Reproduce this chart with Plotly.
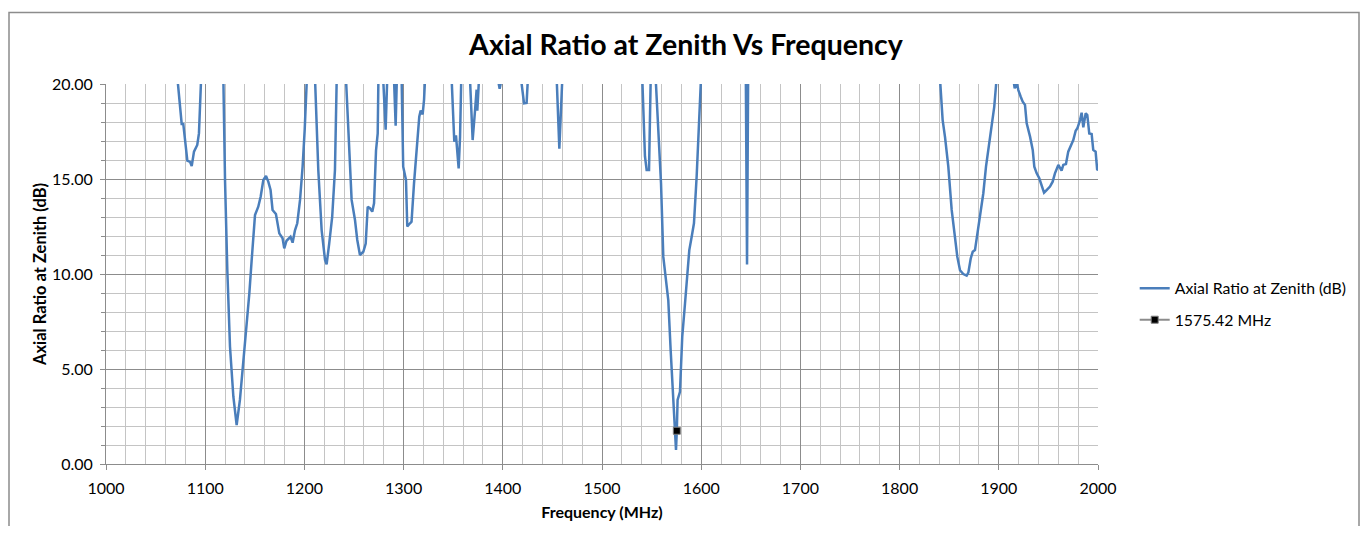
import plotly.graph_objects as go

# Axial ratio; values above 20 dB run off the top of the axis
freq_mhz = [
    1000, 1040, 1072, 1074, 1076.3, 1077.9, 1080, 1082, 1084.7, 1086.4, 1088.7, 1092, 1093.7, 1095, 1096.6,
    1107, 1118.3, 1120, 1122.3, 1125, 1128.4, 1131.7, 1135, 1138.4, 1141.8, 1144.5, 1146.8, 1150.2, 1153.5,
    1155.9, 1158.6, 1161.3, 1163.6, 1165.9, 1167.9, 1171.3, 1174.7, 1178, 1179.7, 1182, 1186, 1188.1, 1190.5,
    1192.8, 1195.6, 1198.2, 1200.3, 1202.5,
    1206, 1210.7, 1214, 1217.4, 1220.8, 1222.4, 1225, 1228, 1230.8, 1233.2,
    1238, 1241.9, 1244.3, 1247.6, 1251, 1253.3, 1256, 1259.4, 1261.8, 1263.8, 1266.1, 1268.4, 1270.2, 1272.2,
    1273.9, 1275,
    1277, 1279.4, 1281.9, 1283.5, 1287, 1290.3, 1292, 1293.2,
    1296, 1298, 1299.6, 1302.4, 1303.7, 1306.5, 1308, 1310.5, 1313.1, 1315.8, 1317.2, 1319.2, 1320.6, 1321.6,
    1335, 1348.4, 1350.1, 1351.1, 1352.8, 1354.1, 1355.5, 1356.9, 1358.4,
    1362, 1366.9, 1369.6, 1372, 1373.6, 1374.3, 1375.3, 1376.3,
    1386, 1395.6, 1396.8, 1398.2,
    1408, 1418.3, 1421.4, 1424, 1425.7,
    1440, 1454.3, 1457, 1460,
    1500, 1540.6, 1543.3, 1545, 1547.4, 1549.1,
    1551, 1554.1, 1556.7, 1559.5, 1561.8, 1564.5, 1566.8, 1569.2, 1571.9, 1574.6, 1575.42, 1576.2, 1578.6,
    1580.9, 1583.7, 1586, 1588, 1590.4, 1592.7, 1595.4, 1597.4, 1599.8,
    1620, 1645.0, 1646.2, 1647.3,
    1700, 1800, 1840.7, 1843.4, 1845.8, 1849.1, 1852.5, 1855.8, 1858.2, 1860.9, 1864.2, 1867.6, 1869.3,
    1871.7, 1873.7, 1876, 1878.3, 1881.7, 1884.4, 1887.1, 1890.4, 1893.8, 1895.4, 1897.8,
    1906, 1914.6, 1916, 1918, 1919.7, 1922.1, 1924.1, 1926.4, 1928.1, 1931.5, 1934.2, 1935.8, 1938.2,
    1940.8, 1943.2, 1945.6, 1948.2, 1951.6, 1954.3, 1956.6, 1960, 1963.3, 1965, 1967.7, 1970, 1972.5,
    1975.1, 1977.5, 1979.2, 1981.9, 1983.5, 1985.2, 1987.6, 1989.2, 1991.2, 1993.6, 1995.2, 1997.6,
    1999.2, 2000,
]
axial_ratio_db = [
    35, 35, 20.3, 19.0, 17.9, 17.9, 16.8, 15.96, 15.9, 15.68, 16.44, 16.79, 17.4, 18.6, 20.3,
    35, 20.3, 14.9, 10.2, 6.17, 3.54, 2.05, 3.37, 5.3, 7.58, 8.98, 10.7, 13.1, 13.54,
    14.07, 14.95, 15.16, 14.86, 14.42, 13.37, 13.16, 12.14, 11.88, 11.35, 11.75, 11.96, 11.65, 12.3,
    12.67, 13.9, 15.65, 17.6, 20.3,
    35, 20.3, 15.47, 12.3, 10.74, 10.51, 11.6, 13.0, 15.47, 20.3,
    35, 20.3, 17.2, 13.9, 12.84, 11.79, 11.0, 11.17, 11.6, 13.54, 13.46, 13.28, 13.72, 16.5,
    17.4, 20.3,
    30, 20.3, 17.6, 20.3, 30, 20.3, 17.8, 20.3,
    30, 20.3, 15.65, 14.95, 12.5, 12.67, 12.75, 14.77, 16.7, 18.28, 18.6, 18.4, 19.16, 20.3,
    35, 20.3, 17.6, 16.96, 17.3, 16.35, 15.56, 17.2, 20.3,
    30, 20.3, 17.05, 18.6, 19.7, 18.6, 19.33, 20.3,
    30, 20.1, 19.75, 20.1,
    30, 20.3, 18.98, 19.0, 20.3,
    35, 20.3, 16.6, 20.3,
    35, 20.3, 16.2, 15.47, 15.47, 20.3,
    30, 20.3, 17.6, 14.77, 10.9, 9.5, 8.63, 6.0, 3.54, 0.74, 1.75, 3.37, 3.8,
    6.7, 8.46, 9.86, 11.26, 11.96, 12.67, 15.12, 17.6, 20.3,
    35, 20.3, 10.5, 20.3,
    35, 35, 20.3, 18.1, 17.2, 15.65, 13.37, 11.96, 10.9, 10.2, 10.0, 9.91, 10.07,
    10.82, 11.17, 11.26, 12.14, 13.19, 14.25, 15.65, 16.96, 18.46, 18.8, 20.3,
    30, 20.3, 19.77, 20.1, 19.68, 19.33, 19.07, 18.9, 17.93, 17.23, 16.53, 15.65, 15.3,
    15.04, 14.68, 14.28, 14.42, 14.6, 14.86, 15.3, 15.74, 15.44, 15.74, 15.79, 16.44, 16.79,
    17.05, 17.54, 17.67, 18.1, 18.49, 17.72, 18.46, 18.37, 17.4, 17.37, 16.53, 16.44,
    15.47, 15.5,
]

gps_freq = [1575.42]
gps_ar = [1.75]

FONT = "Lato"
minor_grid = "#c4c4c4"
major_grid = "#8c8c8c"

# page body adds 8px all round, so the figure is shrunk to fit the window
W, H = 1352, 518
L, T = 98, 76
PW, PH = 992, 380

fig = go.Figure()
fig.add_trace(go.Scatter(
    x=freq_mhz, y=axial_ratio_db, mode="lines",
    name="Axial Ratio at Zenith (dB)", legendgroup="a",
    line=dict(color="#4a7ebb", width=2.5),
))
fig.add_trace(go.Scatter(
    x=gps_freq, y=gps_ar, mode="lines+markers",
    name="1575.42 MHz", legendgroup="b",
    line=dict(color="#8c8c8c", width=2),
    marker=dict(symbol="square", size=7, color="black", line=dict(color="#7f7f7f", width=1)),
))

fig.update_layout(
    width=W, height=H,
    margin=dict(l=L, r=W - L - PW, t=T, b=H - T - PH, autoexpand=False),
    paper_bgcolor="white", plot_bgcolor="white",
    font=dict(family=FONT, size=16, color="black"),
    title=dict(text="<b>Axial Ratio at Zenith Vs Frequency</b>", x=678 / W, xref="container",
               y=1 - 37 / H, yanchor="middle", font=dict(size=28.5, family=FONT)),
    legend=dict(x=1.037, xanchor="left", y=0.42, yanchor="middle",
                font=dict(size=15.8), tracegroupgap=8, bgcolor="rgba(0,0,0,0)"),
    shapes=[dict(type="rect", xref="paper", yref="paper",
                 x0=(1 - L) / PW, x1=(W - 1 - L) / PW, y0=-0.4, y1=(PH + T - 4.5) / PH,
                 line=dict(color="#8c8c8c", width=1.5), layer="below")],
)

fig.update_xaxes(
    range=[1000, 2000], dtick=100, tick0=1000, automargin=False,
    showgrid=True, gridcolor=major_grid, gridwidth=1,
    minor=dict(dtick=20, showgrid=True, gridcolor=minor_grid, gridwidth=1),
    showline=True, linecolor=major_grid, linewidth=1,
    ticks="outside", ticklen=5, tickcolor=major_grid, ticklabelstandoff=5,
    zeroline=False,
    title=dict(text="<b>Frequency (MHz)</b>", font=dict(size=16), standoff=10),
)
fig.update_yaxes(
    range=[0, 20], dtick=5, tick0=0, tickformat=".2f", automargin=False,
    showgrid=True, gridcolor=major_grid, gridwidth=1,
    minor=dict(dtick=1, showgrid=True, gridcolor=minor_grid, gridwidth=1,
               ticks="outside", ticklen=4, tickcolor=major_grid),
    showline=True, linecolor=major_grid, linewidth=1,
    ticks="outside", ticklen=5, tickcolor=major_grid, ticklabelstandoff=4,
    zeroline=False,
    title=dict(text="<b>Axial Ratio at Zenith (dB)</b>", font=dict(size=16.5), standoff=1),
)

fig.write_html("out.html")
